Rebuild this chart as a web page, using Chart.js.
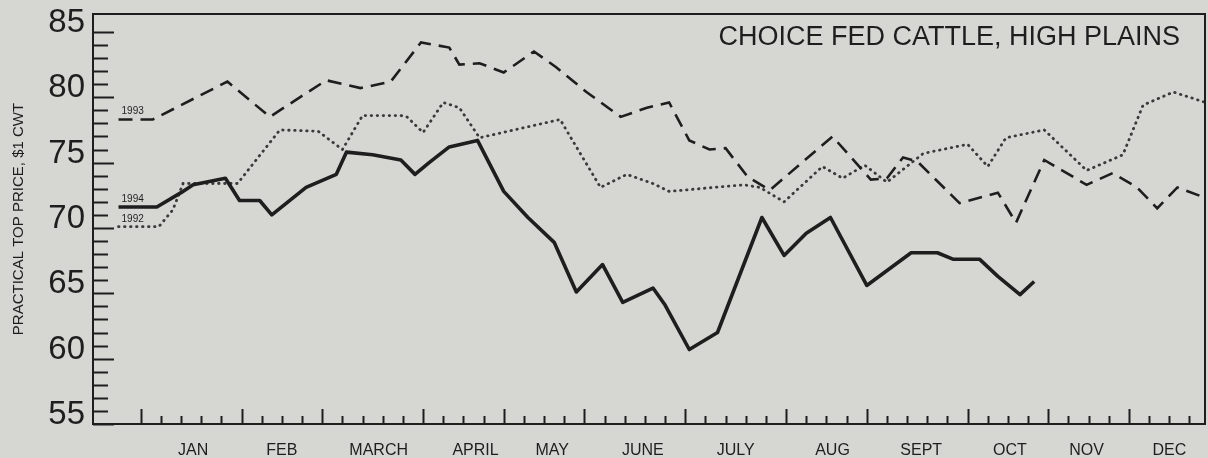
<!DOCTYPE html>
<html lang="en">
<head>
<meta charset="UTF-8">
<title>Choice fed cattle, High Plains</title>
<script src="https://cdn.jsdelivr.net/npm/chart.js"></script>
<style>
  body { margin: 0; background: #d6d6d2; }
  #wrap { width: 1208px; height: 458px; }
</style>
</head>
<body>
<div id="wrap"><canvas id="myChart"></canvas></div>
<script>
// x values are weeks from the first of January (week 0 = first month tick)
const months = ['JAN', 'FEB', 'MARCH', 'APRIL', 'MAY', 'JUNE', 'JULY', 'AUG', 'SEPT', 'OCT', 'NOV', 'DEC'];
const monthMid = [2.6, 7.0, 11.8, 16.6, 20.4, 24.9, 29.5, 34.3, 38.7, 43.1, 46.9, 51.0];
const monthStart = [0, 5, 9, 14, 18, 22, 27, 32, 36, 41, 45, 49];
const priceTicks = [55, 60, 65, 70, 75, 80, 85];

const weeks1993 = [-1.1, 0.6, 4.3, 6.4, 9.2, 10.9, 12.4, 13.9, 15.3, 15.8, 16.8, 18.0, 19.5, 20.6, 22.1, 23.8, 25.1, 26.2,
  27.2, 28.2, 29.0, 30.1, 31.2, 34.3, 36.2, 37.0, 37.8, 38.5, 40.6, 42.5, 43.4, 44.8, 46.9, 48.2, 49.4, 50.4, 51.4, 52.8];
const price1993 = [78.3, 78.3, 81.2, 78.5, 81.3, 80.7, 81.2, 84.2, 83.8, 82.5, 82.6, 81.9, 83.5, 82.3, 80.4, 78.5, 79.2, 79.6,
  76.7, 76.0, 76.1, 73.9, 72.9, 77.0, 73.7, 73.8, 75.4, 75.1, 71.9, 72.7, 70.4, 75.2, 73.3, 74.2, 73.1, 71.5, 73.1, 72.3];

const weeks1992 = [-1.1, 0.9, 1.6, 2.1, 4.8, 6.9, 8.8, 10.0, 11.0, 12.9, 13.2, 14.0, 15.0, 15.8, 16.8, 20.8, 21.1, 22.8,
  24.1, 25.4, 26.2, 29.9, 30.7, 31.9, 33.8, 34.8, 35.9, 37.0, 38.8, 41.0, 42.0, 42.9, 44.8, 46.9, 48.7, 49.7, 51.2, 52.8];
const price1992 = [70.1, 70.1, 71.4, 73.4, 73.4, 77.5, 77.4, 76.0, 78.6, 78.6, 78.5, 77.3, 79.6, 79.2, 76.9, 78.3, 77.5, 73.1,
  74.1, 73.4, 72.8, 73.3, 73.1, 72.0, 74.7, 73.8, 74.8, 73.5, 75.7, 76.4, 74.7, 76.9, 77.5, 74.4, 75.6, 79.4, 80.4, 79.6];

const weeks1994 = [-1.1, 0.8, 2.0, 2.6, 4.2, 4.9, 5.9, 6.5, 8.2, 9.7, 10.2, 11.5, 12.9, 13.6, 14.3, 15.3, 16.7, 18.0, 19.2,
  20.5, 21.6, 22.9, 23.9, 25.4, 26.0, 27.2, 28.6, 30.8, 31.9, 33.0, 34.2, 36.0, 38.2, 39.5, 40.3, 41.6, 42.5, 43.6, 44.3];
const price1994 = [71.6, 71.6, 72.7, 73.3, 73.8, 72.1, 72.1, 71.0, 73.1, 74.1, 75.8, 75.6, 75.2, 74.1, 75.0, 76.2, 76.7, 72.8, 70.8,
  68.9, 65.1, 67.2, 64.3, 65.4, 64.1, 60.7, 62.0, 70.8, 67.9, 69.6, 70.8, 65.6, 68.1, 68.1, 67.6, 67.6, 66.3, 64.9, 65.9];

const ink = '#1e1e1e';

function pts(xs, ys) {
  return xs.map((x, i) => ({ x: x, y: ys[i] }));
}

// ticks on the inside of the frame, title, year tags
const decorations = {
  id: 'decorations',
  afterDraw(chart) {
    const { ctx, chartArea: a, scales } = chart;
    const xs = scales.x, ys = scales.y;
    ctx.save();
    ctx.strokeStyle = ink;
    ctx.lineWidth = 2;
    ctx.strokeRect(a.left, a.top, a.right - a.left, a.bottom - a.top);

    ctx.beginPath();
    for (let v = 55; v <= 85; v++) {
      const y = Math.round(ys.getPixelForValue(v)) + 0.5;
      const len = v % 5 === 0 ? 21 : 15;
      ctx.moveTo(a.left, y);
      ctx.lineTo(a.left + len, y);
    }
    for (let w = 0; w <= 52; w++) {
      const x = Math.round(xs.getPixelForValue(w)) + 0.5;
      const len = monthStart.includes(w) ? 15 : 8;
      ctx.moveTo(x, a.bottom);
      ctx.lineTo(x, a.bottom - len);
    }
    ctx.stroke();

    ctx.fillStyle = ink;
    ctx.font = '27px "Liberation Sans", Arial, sans-serif';
    ctx.textAlign = 'right';
    ctx.textBaseline = 'middle';
    ctx.fillText('CHOICE FED CATTLE, HIGH PLAINS', a.right - 25, a.top + 24);

    ctx.font = '10px "Liberation Sans", Arial, sans-serif';
    ctx.textAlign = 'left';
    ctx.textBaseline = 'alphabetic';
    chart.data.datasets.forEach((ds, i) => {
      const p = chart.getDatasetMeta(i).data[0];
      ctx.fillText(ds.label, p.x + 3, p.y - 5);
    });
    ctx.restore();
  }
};

function noEdgePad(scale) {
  scale.paddingTop = 0;
  scale.paddingBottom = 0;
  scale.paddingLeft = 0;
  scale.paddingRight = 0;
}

const ctx = document.getElementById('myChart');
const myChart = new Chart(ctx, {
  type: 'line',
  data: {
    datasets: [
      {
        label: '1993',
        data: pts(weeks1993, price1993),
        borderColor: ink,
        borderWidth: 2.6,
        borderDash: [14, 8]
      },
      {
        label: '1994',
        data: pts(weeks1994, price1994),
        borderColor: ink,
        borderWidth: 3.6,
        borderJoinStyle: 'round'
      },
      {
        label: '1992',
        data: pts(weeks1992, price1992),
        borderColor: '#3a3a3a',
        borderWidth: 2.8,
        borderDash: [0.5, 5.5],
        borderCapStyle: 'round'
      }
    ]
  },
  options: {
    responsive: true,
    maintainAspectRatio: false,
    animation: false,
    layout: { padding: { top: 14, right: 3, left: 0, bottom: 0 } },
    elements: { point: { radius: 0 }, line: { tension: 0 } },
    plugins: { legend: { display: false }, tooltip: { enabled: false } },
    scales: {
      x: {
        type: 'linear',
        min: -2.365,
        max: 52.77,
        grid: { display: false },
        border: { display: false },
        afterBuildTicks: scale => { scale.ticks = monthMid.map(v => ({ value: v })); },
        afterFit: scale => { scale.height = 34; noEdgePad(scale); },
        ticks: {
          autoSkip: false,
          maxRotation: 0,
          padding: 9,
          color: ink,
          font: { family: '"Liberation Sans", Arial, sans-serif', size: 16 },
          callback: (v, i) => months[i]
        }
      },
      y: {
        min: 55,
        max: 86.37,
        grid: { display: false, drawTicks: false },
        border: { display: false },
        afterBuildTicks: scale => { scale.ticks = priceTicks.map(v => ({ value: v })); },
        afterFit: scale => { scale.width = 93; noEdgePad(scale); },
        ticks: {
          padding: 8,
          labelOffset: -9,
          color: ink,
          font: { family: '"Liberation Sans", Arial, sans-serif', size: 33 }
        },
        title: {
          display: true,
          text: 'PRACTICAL TOP PRICE, $1 CWT',
          color: ink,
          padding: { top: 10, bottom: 0 },
          font: { family: '"Liberation Sans", Arial, sans-serif', size: 15 }
        }
      }
    }
  },
  plugins: [decorations]
});
</script>
</body>
</html>
